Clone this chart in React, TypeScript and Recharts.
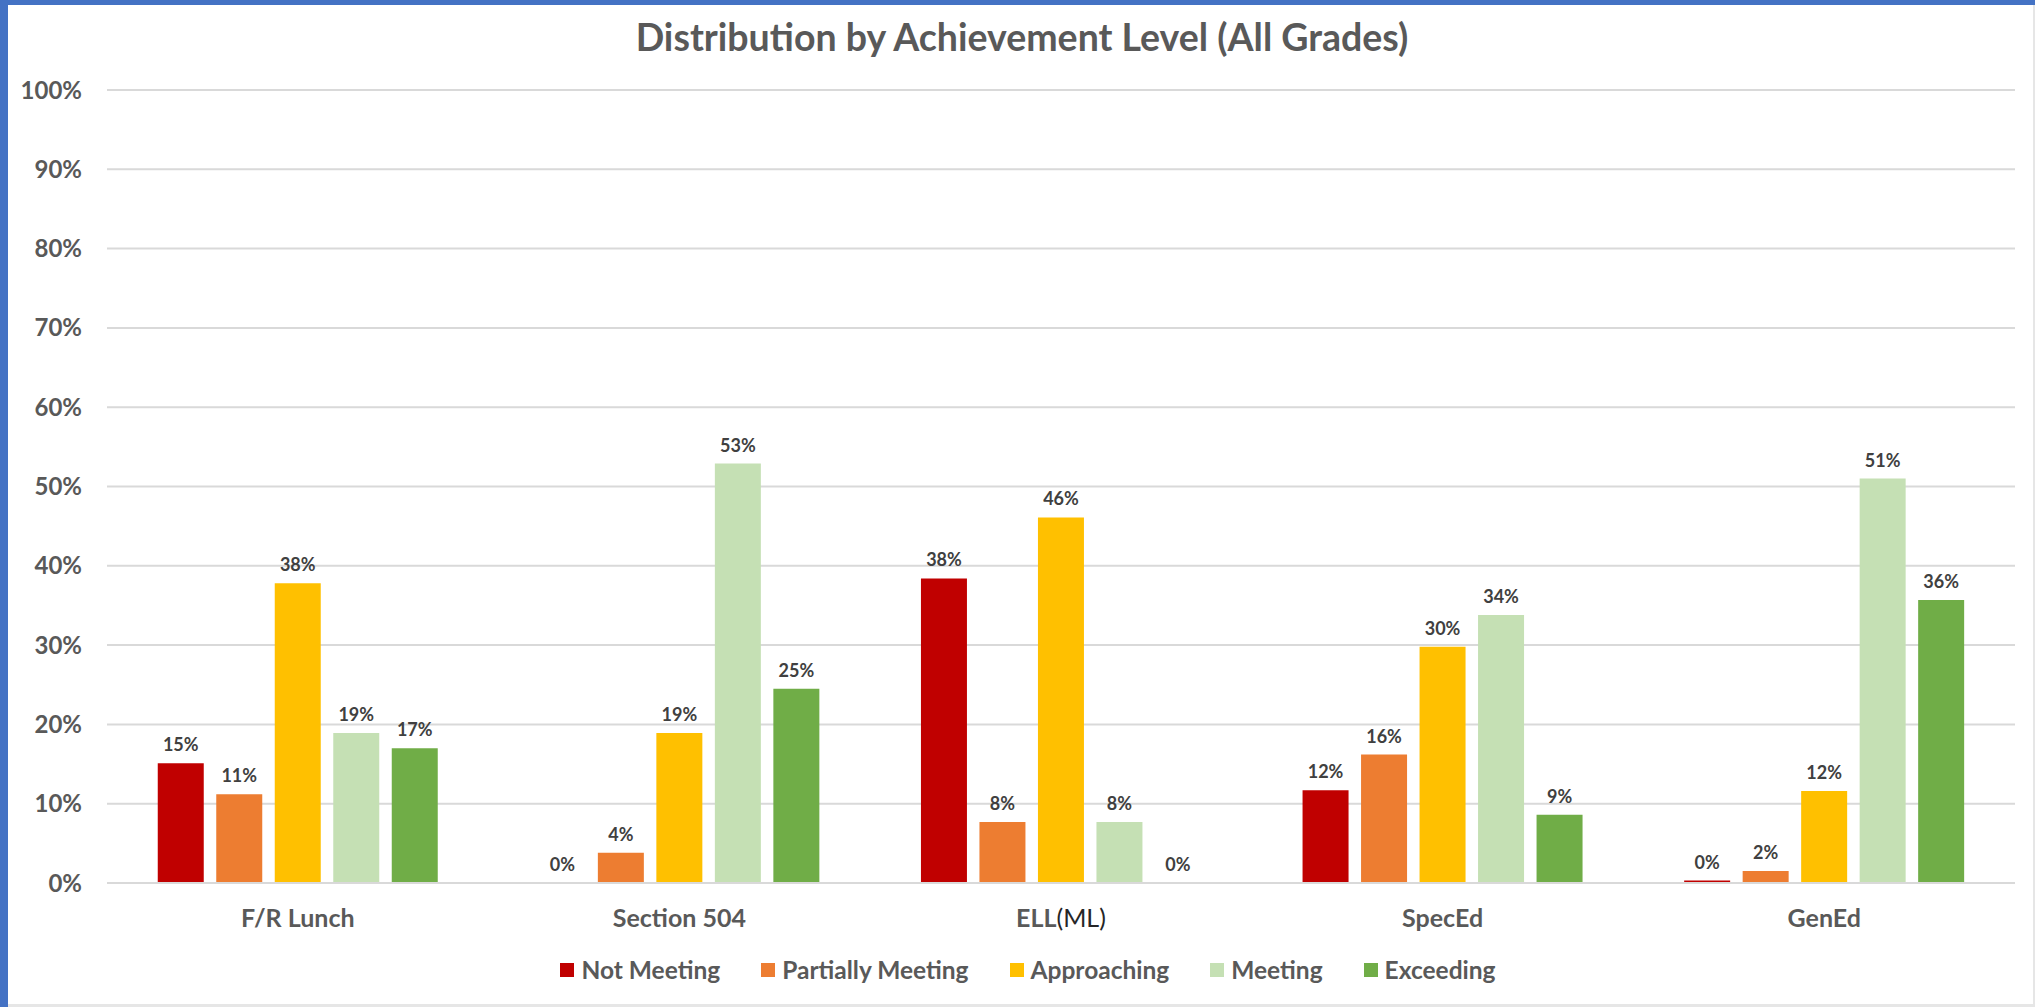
import React from 'react';
import { BarChart, Bar, XAxis, YAxis, CartesianGrid, LabelList } from 'recharts';

const categories = ['F/R Lunch', 'Section 504', 'ELL(ML)', 'SpecEd', 'GenEd'];
const notMeeting = [15.1, 0, 38.4, 11.7, 0.3];
const partiallyMeeting = [11.2, 3.8, 7.7, 16.2, 1.5];
const approaching = [37.8, 18.9, 46.1, 29.8, 11.6];
const meeting = [18.9, 52.9, 7.7, 33.8, 51.0];
const exceeding = [17.0, 24.5, 0, 8.6, 35.7];
const yTicks = [0, 10, 20, 30, 40, 50, 60, 70, 80, 90, 100];

const series = [
  { key: 'notMeeting', name: 'Not Meeting', color: '#C00000', values: notMeeting },
  { key: 'partiallyMeeting', name: 'Partially Meeting', color: '#ED7D31', values: partiallyMeeting },
  { key: 'approaching', name: 'Approaching', color: '#FFC000', values: approaching },
  { key: 'meeting', name: 'Meeting', color: '#C5E0B4', values: meeting },
  { key: 'exceeding', name: 'Exceeding', color: '#70AD47', values: exceeding },
];

const chartData = categories.map((name, i) => {
  const row: Record<string, string | number> = { name };
  series.forEach(s => {
    row[s.key] = s.values[i];
  });
  return row;
});

const FONT = 'Lato, "Open Sans", sans-serif';

// category labels: the part in brackets is drawn in regular weight
const CategoryTick = (props: any) => {
  const { x, y, payload } = props;
  const label: string = payload.value;
  const cut = label.indexOf('(');
  const main = cut > 0 ? label.slice(0, cut) : label;
  const rest = cut > 0 ? label.slice(cut) : '';
  return (
    <text x={x} y={y} dy={34} textAnchor="middle" fontFamily={FONT} fontSize={25} fill="#595959">
      <tspan fontWeight={700}>{main}</tspan>
      {rest && <tspan fontWeight={400} fill="#262626">{rest}</tspan>}
    </text>
  );
};

const App: React.FC = () => {
  return (
    <div style={{ position: 'absolute', left: 0, top: 0, width: 2035, height: 1007, background: '#4472C4', fontFamily: FONT }}>
      <div
        style={{
          position: 'absolute',
          left: 8,
          top: 5,
          width: 2025,
          height: 999,
          background: '#ffffff',
          borderRight: '2px solid #e6e6e6',
          borderBottom: '3px solid #e6e6e6',
        }}
      />
      <div
        style={{
          position: 'absolute',
          left: 0,
          top: 14,
          width: 2044,
          textAlign: 'center',
          fontSize: 37.5,
          fontWeight: 700,
          color: '#595959',
          lineHeight: '46px',
        }}
      >
        Distribution by Achievement Level (All Grades)
      </div>
      <div style={{ position: 'absolute', left: 0, top: 0 }}>
        <BarChart
          width={2035}
          height={1007}
          data={chartData}
          margin={{ top: 90, right: 20, left: 0, bottom: 0 }}
          barCategoryGap="13.3%"
          barGap={12.5}
        >
          <CartesianGrid vertical={false} stroke="#d9d9d9" strokeWidth={2} />
          <XAxis
            dataKey="name"
            interval={0}
            height={124}
            tickLine={false}
            tickSize={0}
            tickMargin={10}
            axisLine={{ stroke: '#d9d9d9', strokeWidth: 2 }}
            tick={<CategoryTick />}
          />
          <YAxis
            width={107}
            domain={[0, 100]}
            ticks={yTicks}
            interval={0}
            tickFormatter={(v: number) => `${v}%`}
            axisLine={false}
            tickLine={false}
            tickSize={0}
            tickMargin={25}
            tick={{ fill: '#595959', fontSize: 24, fontWeight: 700, fontFamily: FONT }}
          />
          {series.map(s => (
            <Bar
              key={s.key}
              dataKey={s.key}
              name={s.name}
              fill={s.color}
              minPointSize={0.01}
              isAnimationActive={false}
            >
              <LabelList
                dataKey={s.key}
                position="top"
                offset={12}
                formatter={(v: any) => `${Math.round(Number(v))}%`}
                style={{ fill: '#404040', fontSize: 18, fontWeight: 700, fontFamily: FONT }}
              />
            </Bar>
          ))}
        </BarChart>
      </div>
      <div
        style={{
          position: 'absolute',
          left: 0,
          top: 955,
          width: 2056,
          display: 'flex',
          justifyContent: 'center',
          alignItems: 'center',
          gap: 41,
          fontSize: 24.5,
          fontWeight: 700,
          color: '#595959',
          lineHeight: '30px',
        }}
      >
        {series.map(s => (
          <div key={s.key} style={{ display: 'flex', alignItems: 'center' }}>
            <span style={{ display: 'inline-block', width: 14, height: 14, background: s.color, marginRight: 7 }} />
            <span>{s.name}</span>
          </div>
        ))}
      </div>
    </div>
  );
};

export default App;
